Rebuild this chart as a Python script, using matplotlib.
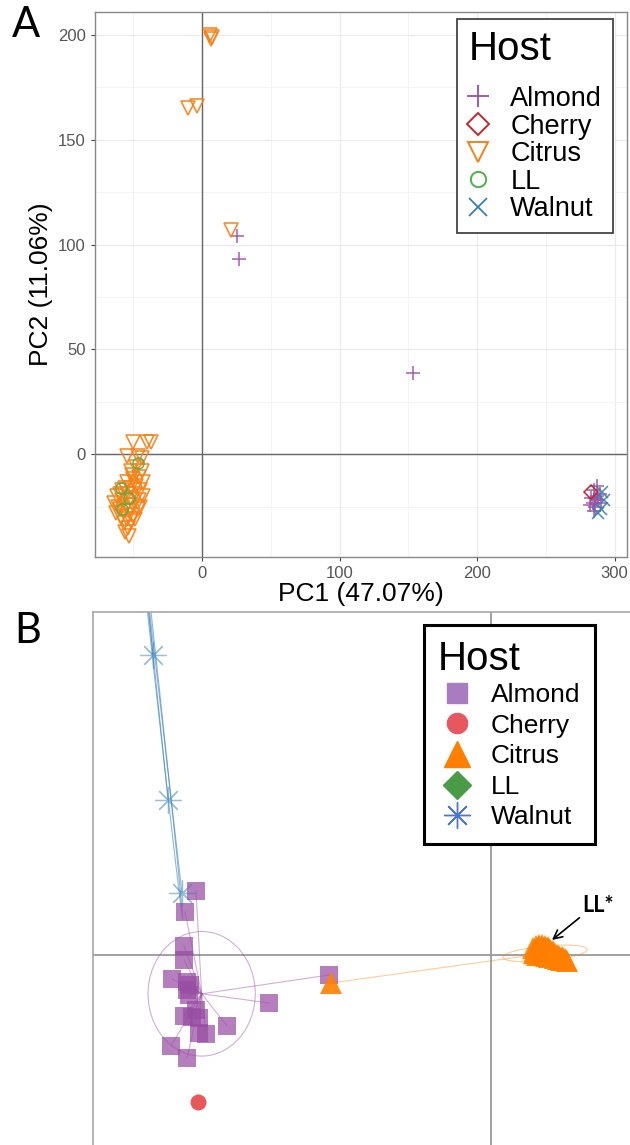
import numpy as np
import matplotlib
matplotlib.use("Agg")
import matplotlib.pyplot as plt
from matplotlib.lines import Line2D
from matplotlib.patches import Ellipse

plt.rcParams['font.family'] = ['Liberation Sans', 'DejaVu Sans']

hosts = ["Almond", "Cherry", "Citrus", "LL", "Walnut"]

# ---- panel A: PCA scores ----
almond_pc1 = [25, 27, 153, 285, 287, 284, 288, 286, 283, 289, 285, 287, 282, 290, 286]
almond_pc2 = [104, 93, 39, -17, -20, -23, -22, -25, -21, -19, -27, -15, -24, -23, -21]
cherry_pc1 = [283]
cherry_pc2 = [-18]
citrus_pc1 = [6, 7, 6.5, -10, -4, 21, -50, -40, -37, -55, -47, -44,
              -48, -44, -52, -46, -50, -43, -55, -48, -52, -45, -58, -55, -49, -62,
              -43, -52, -58, -46, -64, -55, -50, -61, -47, -57, -53, -63, -50, -59,
              -55, -52, -57, -54, -56, -53, -60, -56, -51, -45, -60, -49]
citrus_pc2 = [200, 199, 198, 165, 166, 107, 6, 6, 6, -1, -1, -2,
              -6, -8, -8, -11, -12, -13, -13, -15, -16, -17, -17, -19, -19, -20,
              -20, -21, -22, -22, -23, -24, -24, -25, -26, -27, -27, -28, -29, -30,
              -31, -32, -33, -35, -37, -39, -19, -16, -10, -25, -26, -31]
ll_pc1 = [-47, -59, -53, -58]
ll_pc2 = [-4, -16, -21, -26]
walnut_pc1 = [290, 291, 288, 292]
walnut_pc2 = [-26, -18, -28, -22]

# ---- panel B: discriminant scores ----
almond_b_x = [-2.95, -3.06, -3.07, -3.07, -3.19, -3.04, -3.04, -2.22, -3.07, -2.95,
              -2.92, -2.64, -2.92, -2.85, -3.20, -3.04, -1.62, -2.99, -3.01, -3.02]
almond_b_y = [0.64, 0.43, 0.09, -0.05, -0.24, -0.27, -0.35, -0.48, -0.61, -0.55,
              -0.63, -0.71, -0.78, -0.79, -0.91, -1.03, -0.20, -0.62, -0.30, -0.40]
cherry_b_x = [-2.93]
cherry_b_y = [-1.47]
citrus_b_x = [-1.60, 0.42, 0.45, 0.48, 0.51, 0.54, 0.57, 0.44, 0.47, 0.50, 0.53, 0.56,
              0.59, 0.62, 0.46, 0.49, 0.52, 0.55, 0.58, 0.61, 0.64, 0.67, 0.70, 0.73,
              0.76, 0.66, 0.71, 0.43, 0.50, 0.56, 0.45, 0.52, 0.58, 0.63, 0.68, 0.74,
              0.48, 0.54, 0.60, 0.65, 0.47, 0.51, 0.55, 0.59, 0.62, 0.49, 0.53, 0.57,
              0.61, 0.64, 0.69, 0.72, 0.44, 0.52, 0.56, 0.60, 0.66, 0.70, 0.46, 0.50,
              0.54, 0.58, 0.63, 0.67, 0.75]
citrus_b_y = [-0.28, 0.07, 0.09, 0.10, 0.10, 0.09, 0.08, 0.03, 0.05, 0.06, 0.05, 0.04,
              0.03, 0.02, 0.00, 0.01, 0.00, -0.01, -0.02, -0.01, -0.03, -0.04, -0.05, -0.05,
              -0.06, 0.00, -0.02, 0.02, 0.03, 0.06, 0.05, 0.07, 0.06, 0.01, -0.01, -0.04,
              0.08, 0.02, 0.04, -0.02, 0.07, 0.08, 0.07, 0.05, 0.04, 0.03, 0.04, 0.01,
              0.00, 0.01, -0.03, -0.03, 0.05, 0.02, 0.02, 0.01, -0.02, -0.04, 0.02, 0.04,
              0.06, 0.03, -0.01, -0.02, -0.05]
ll_b_x = [0.46, 0.50, 0.53, 0.48]
ll_b_y = [0.04, 0.02, 0.04, 0.00]
walnut_b_x = [-3.38, -3.23, -3.09, -3.70, -3.75, -3.80]
walnut_b_y = [3.00, 1.55, 0.62, 6.00, 6.50, 7.00]

colA = {"Almond": "#984EA3", "Cherry": "#C4262C", "Citrus": "#F58216",
        "LL": "#4DAF4A", "Walnut": "#377EB8"}
colB = {"Almond": "#984EA3", "Cherry": "#E8575A", "Citrus": "#FF7F00",
        "LL": "#3F9B3F", "Walnut": "#377EB8"}

fig = plt.figure(figsize=(6.3, 11.45), dpi=100)

# ================= panel A =================
axA = fig.add_axes([95/630, 1 - 557/1145, 532/630, 545/1145])
axA.set_xlim(-78, 309)
axA.set_ylim(-49, 211)
axA.set_xticks([0, 100, 200, 300])
axA.set_xticks([-50, 50, 150, 250], minor=True)
axA.set_yticks([0, 50, 100, 150, 200])
axA.set_yticks([-25, 25, 75, 125, 175], minor=True)
axA.grid(which='major', color='#EBEBEB', lw=0.9)
axA.grid(which='minor', color='#F3F3F3', lw=0.6)
axA.set_axisbelow(True)
axA.tick_params(which='major', labelsize=12, labelcolor='#555555', length=3,
                color='#444444', width=0.8)
axA.tick_params(which='minor', length=0)
for s in axA.spines.values():
    s.set_color('#888888')
    s.set_linewidth(1.0)
axA.axhline(0, color='#666666', lw=1.0, zorder=1)
axA.axvline(0, color='#666666', lw=1.0, zorder=1)

axA.plot(almond_pc1, almond_pc2, '+', color=colA["Almond"], ms=10, mew=1.1, alpha=0.9)
axA.plot(cherry_pc1, cherry_pc2, 'D', mfc='none', mec=colA["Cherry"], ms=7, mew=1.1)
axA.plot(citrus_pc1, citrus_pc2, 'v', mfc='none', mec=colA["Citrus"], ms=10, mew=1.2, alpha=0.9)
axA.plot(ll_pc1, ll_pc2, 'o', mfc='none', mec=colA["LL"], ms=8, mew=1.1, alpha=0.9)
axA.plot(walnut_pc1, walnut_pc2, 'x', color=colA["Walnut"], ms=8, mew=1.1, alpha=0.9)

axA.set_xlabel("PC1 (47.07%)", fontsize=19, labelpad=1)
axA.set_ylabel("PC2 (11.06%)", fontsize=19, labelpad=4)

handlesA = [
    Line2D([], [], ls='none', marker='+', color=colA["Almond"], ms=16, mew=1.3),
    Line2D([], [], ls='none', marker='D', mfc='none', mec=colA["Cherry"], ms=11, mew=1.4),
    Line2D([], [], ls='none', marker='v', mfc='none', mec=colA["Citrus"], ms=15, mew=1.4),
    Line2D([], [], ls='none', marker='o', mfc='none', mec=colA["LL"], ms=11, mew=1.4),
    Line2D([], [], ls='none', marker='x', color=colA["Walnut"], ms=13, mew=1.3),
]
legA = axA.legend(handlesA, hosts, title="Host", loc='upper right',
                  bbox_to_anchor=(613/630, 1 - 19/1145), bbox_transform=fig.transFigure,
                  borderaxespad=0, fontsize=19.5, title_fontsize=29, frameon=True,
                  fancybox=False, edgecolor='#444444', framealpha=1, borderpad=0.4,
                  labelspacing=0.06, handletextpad=0.8, handlelength=0.75,
                  alignment='left')
legA.get_frame().set_linewidth(1.3)
legA._legend_box.sep = 13

fig.text(12/630, 1 - 6/1145, "A", fontsize=30, family=['Lato', 'DejaVu Sans'],
         va='top', ha='left')

# ================= panel B =================
axB = fig.add_axes([93/630, 0, 537/630, (1145 - 612)/1145])
axB.set_xlim(-3.98, 1.39)
axB.set_ylim(-1.90, 3.43)
axB.set_xticks([])
axB.set_yticks([])
for side in ['right', 'bottom']:
    axB.spines[side].set_visible(False)
for side in ['top', 'left']:
    axB.spines[side].set_color('#A8A8A8')
    axB.spines[side].set_linewidth(1.2)
axB.axhline(0, color='#9A9A9A', lw=1.3, zorder=1)
axB.axvline(0, color='#9A9A9A', lw=1.3, zorder=1)


def draw_class(ax, xs, ys, color, alpha=0.5):
    xs = np.asarray(xs, dtype=float)
    ys = np.asarray(ys, dtype=float)
    cx, cy = xs.mean(), ys.mean()
    for x, y in zip(xs, ys):
        ax.plot([cx, x], [cy, y], color=color, lw=0.8, alpha=alpha, zorder=2)
    if len(xs) > 1:
        cov = np.cov(xs, ys, bias=True)
        vals, vecs = np.linalg.eigh(cov)
        angle = np.degrees(np.arctan2(vecs[1, 1], vecs[0, 1]))
        ax.add_patch(Ellipse((cx, cy), 2 * 1.5 * np.sqrt(vals[1]), 2 * 1.5 * np.sqrt(vals[0]),
                             angle=angle, fill=False, ec=color, lw=0.8, alpha=alpha, zorder=2))


draw_class(axB, almond_b_x, almond_b_y, colB["Almond"], 0.45)
draw_class(axB, citrus_b_x, citrus_b_y, colB["Citrus"], 0.4)
draw_class(axB, walnut_b_x, walnut_b_y, colB["Walnut"], 0.55)

axB.plot(ll_b_x, ll_b_y, 'D', color=colB["LL"], ms=9, zorder=3)
axB.plot(almond_b_x, almond_b_y, 's', color=colB["Almond"], ms=13, mew=0, alpha=0.72, zorder=4)
axB.plot(cherry_b_x, cherry_b_y, 'o', color=colB["Cherry"], ms=11.5, mew=0, zorder=4)
axB.plot(citrus_b_x, citrus_b_y, '^', color=colB["Citrus"], ms=16, mew=0, alpha=0.9, zorder=4)
axB.plot(walnut_b_x, walnut_b_y, ls='none', marker=(8, 2, 0), color=colB["Walnut"],
         ms=19, mew=0.9, alpha=0.5, zorder=4)
draw_class(axB, ll_b_x, ll_b_y, colB["LL"], 0.6)

axB.annotate("LL*", xy=(0.61, 0.15), xytext=(1.07, 0.50), textcoords='data',
             fontsize=15.5, fontweight='bold', family=['Lato', 'DejaVu Sans'],
             ha='center', va='center',
             arrowprops=dict(arrowstyle='->', color='black', lw=1.2,
                             shrinkA=0, shrinkB=0, relpos=(0.0, 0.0)), zorder=6)

handlesB = [
    Line2D([], [], ls='none', marker='s', color='#A97BC1', ms=14.5),
    Line2D([], [], ls='none', marker='o', color='#E8575F', ms=14.5),
    Line2D([], [], ls='none', marker='^', color='#FF7F00', ms=19),
    Line2D([], [], ls='none', marker='D', color='#4A9B47', ms=14),
    Line2D([], [], ls='none', marker=(8, 2, 0), color='#4B74D0', ms=19, mew=1.0),
]
legB = axB.legend(handlesB, hosts, title="Host", loc='upper right',
                  bbox_to_anchor=(595/630, 1 - 625/1145), bbox_transform=fig.transFigure,
                  borderaxespad=0, fontsize=19, title_fontsize=29, frameon=True,
                  fancybox=False, edgecolor='black', framealpha=1, borderpad=0.55,
                  labelspacing=0.25, handletextpad=0.6, handlelength=1.4,
                  alignment='left')
legB.get_frame().set_linewidth(2.2)
legB._legend_box.sep = 4
legB.set_zorder(7)

fig.text(14/630, 1 - 612/1145, "B", fontsize=30, family=['Lato', 'DejaVu Sans'],
         va='top', ha='left')

fig.savefig("out.png", dpi=100)
